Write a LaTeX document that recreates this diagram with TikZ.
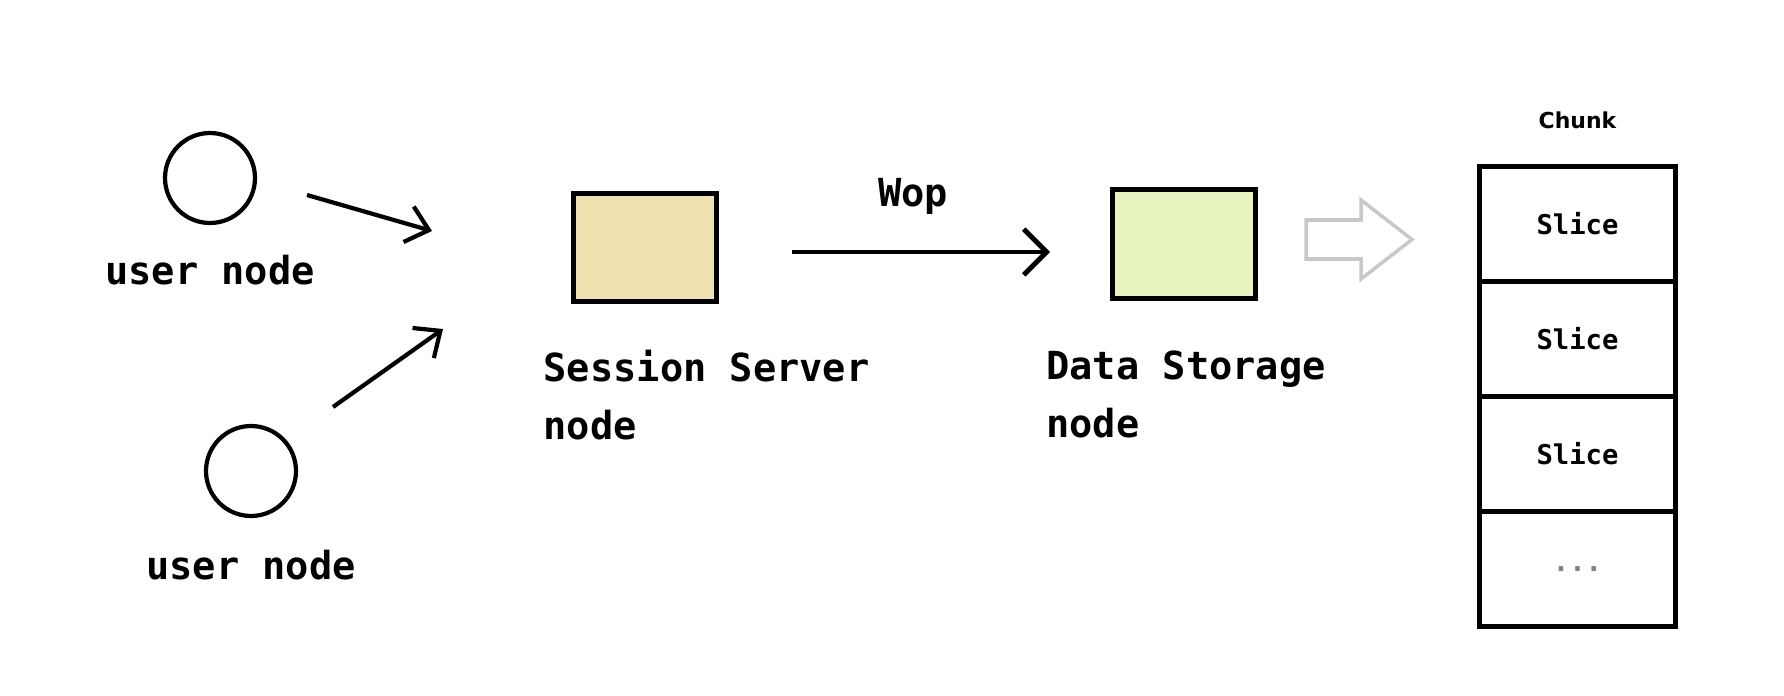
\documentclass[tikz,border=0pt]{standalone}
\usepackage{fontspec}
\usepackage{tikz}
\usetikzlibrary{arrows.meta,positioning}
\newfontfamily\monofont{DejaVu Sans Mono}
\newfontfamily\chunkfont{DejaVu Sans}
\definecolor{SessionFill}{HTML}{EEE1AF}
\definecolor{StorageFill}{HTML}{E9F5C1}
\definecolor{HollowGray}{HTML}{C8C8C8}
\tikzset{
usernode/.style= {circle, draw, line width=2.4pt, minimum size=1.8cm},
userlabel/.style= {inner sep=0pt, font=\monofont\bfseries\fontsize{22}{26}\selectfont},
nodebox/.style= {rectangle, draw, line width=2.8pt, minimum width=2.87cm, minimum height=2.16cm},
boxlabel/.style= {inner sep=0pt, align=left, font=\monofont\bfseries\fontsize{22}{33}\selectfont},
slicebox/.style= {rectangle, draw, line width=2.8pt, outer sep=0pt, minimum width=3.92cm, minimum height=2.3cm, font=\monofont\bfseries\fontsize{15.5}{18}\selectfont},
flow/.style= {-{Straight Barb[length=12pt,width=21pt]}, line width=2.4pt},
wopflow/.style= {-{Straight Barb[length=13pt,width=26pt]}, line width=2.8pt},
hollow/.style= {draw=HollowGray, line width=2pt, line join=miter}
}

\begin{document}
\begin{tikzpicture}[x=0.02cm, y=-0.02cm]
\useasboundingbox (0,0) rectangle (1784,696);

% users
\node[usernode] (u1) at (210,178) {};
\node[userlabel, below=0.6cm of u1] (u1l) {user node};
\node[usernode] (u2) at (251,471) {};
\node[userlabel, below=0.63cm of u2] (u2l) {user node};

\coordinate (a1) at (307,195);
\coordinate (b1) at (432,231);
\coordinate (a2) at (333,407);
\coordinate (b2) at (443,329);
\draw[flow] (a1) -- (b1);
\draw[flow] (a2) -- (b2);

% session server and data storage
\node[nodebox, fill=SessionFill] (ss) at (645,247.5) {};
\node[boxlabel, below right=0.92cm and -0.55cm of ss.south west] (ssl) {Session Server\\node};

\node[nodebox, fill=StorageFill, minimum width=2.86cm, minimum height=2.18cm] (ds) at (1184,244) {};
\node[boxlabel, below right=1.0cm and -1.28cm of ds.south west] (dsl) {Data Storage\\node};

\coordinate (w0) at (792,252);
\coordinate (w1) at (1050,252);
\draw[wopflow] (w0) -- (w1);
\node[userlabel] (wop) at (913,196) {Wop};

% hollow arrow
\draw[hollow] (1306,220) -- (1361,220) -- (1361,200) -- (1412,239.5)
  -- (1361,279) -- (1361,259) -- (1306,259) -- cycle;

% chunk
\node[slicebox] (s1) at (1577.5,224) {Slice};
\foreach \i/\j in {1/2,2/3}
  \node[slicebox, below=0pt of s\i] (s\j) {Slice};
\node[slicebox, below=0pt of s3, text=gray] (s4) {...};
\node[inner sep=0pt, font=\chunkfont\bfseries\fontsize{12.5}{15}\selectfont, above=0.74cm of s1] (chunk) {Chunk};
\end{tikzpicture}
\end{document}
